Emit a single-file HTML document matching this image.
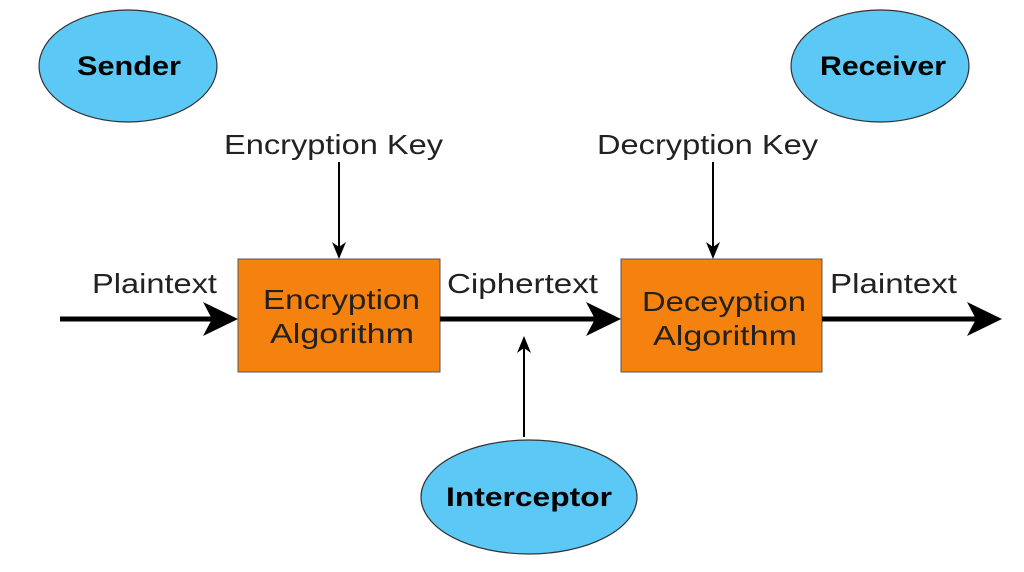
<!DOCTYPE html>
<html><head><style>
body{margin:0;background:#fff;}
svg text{font-family:"Liberation Sans",sans-serif;}
</style></head><body>
<svg width="1024" height="567" viewBox="0 0 1024 567" xmlns="http://www.w3.org/2000/svg">
<ellipse cx="128" cy="66" rx="89" ry="56" fill="#5bc8f5" stroke="#333" stroke-width="1.2"/>
<text x="77" y="75" font-size="27" font-weight="bold" textLength="104" lengthAdjust="spacingAndGlyphs">Sender</text>
<ellipse cx="880" cy="66" rx="89" ry="56" fill="#5bc8f5" stroke="#333" stroke-width="1.2"/>
<text x="820" y="75" font-size="27" font-weight="bold" textLength="126" lengthAdjust="spacingAndGlyphs">Receiver</text>
<ellipse cx="529" cy="497" rx="108" ry="57" fill="#5bc8f5" stroke="#333" stroke-width="1.2"/>
<text x="446" y="506" font-size="27" font-weight="bold" textLength="166" lengthAdjust="spacingAndGlyphs">Interceptor</text>

<rect x="238" y="259" width="202" height="113" fill="#f5820f" stroke="#555" stroke-width="1"/>
<text x="263" y="309" font-size="28" fill="#222" textLength="157" lengthAdjust="spacingAndGlyphs">Encryption</text>
<text x="270" y="343" font-size="28" fill="#222" textLength="144" lengthAdjust="spacingAndGlyphs">Algorithm</text>
<rect x="621" y="259" width="201" height="113" fill="#f5820f" stroke="#555" stroke-width="1"/>
<text x="642" y="311" font-size="28" fill="#222" textLength="164" lengthAdjust="spacingAndGlyphs">Deceyption</text>
<text x="653" y="345" font-size="28" fill="#222" textLength="144" lengthAdjust="spacingAndGlyphs">Algorithm</text>

<g stroke="#000" stroke-width="5">
<line x1="60" y1="319" x2="215" y2="319"/>
<line x1="440" y1="319" x2="598" y2="319"/>
<line x1="822" y1="319" x2="978" y2="319"/>
</g>
<g fill="#000">
<polygon points="238,319 203,302 212,319 203,336"/>
<polygon points="621,319 586,302 595,319 586,336"/>
<polygon points="1002,319 967,302 976,319 967,336"/>
</g>
<g stroke="#000" stroke-width="2">
<line x1="339" y1="162" x2="339" y2="250"/>
<line x1="713" y1="162" x2="713" y2="250"/>
<line x1="524" y1="437" x2="524" y2="345"/>
</g>
<g fill="#000">
<polygon points="339,259 332,242 339,247 346,242"/>
<polygon points="713,259 706,242 713,247 720,242"/>
<polygon points="524,336 517,353 524,348 531,353"/>
</g>
<g font-size="28" fill="#222" lengthAdjust="spacingAndGlyphs">
<text x="224" y="154" textLength="219" lengthAdjust="spacingAndGlyphs">Encryption Key</text>
<text x="597" y="154" textLength="221" lengthAdjust="spacingAndGlyphs">Decryption Key</text>
<text x="92" y="293" textLength="125" lengthAdjust="spacingAndGlyphs">Plaintext</text>
<text x="447" y="293" textLength="151" lengthAdjust="spacingAndGlyphs">Ciphertext</text>
<text x="830" y="293" textLength="127" lengthAdjust="spacingAndGlyphs">Plaintext</text>
</g>
</svg>
</body></html>
